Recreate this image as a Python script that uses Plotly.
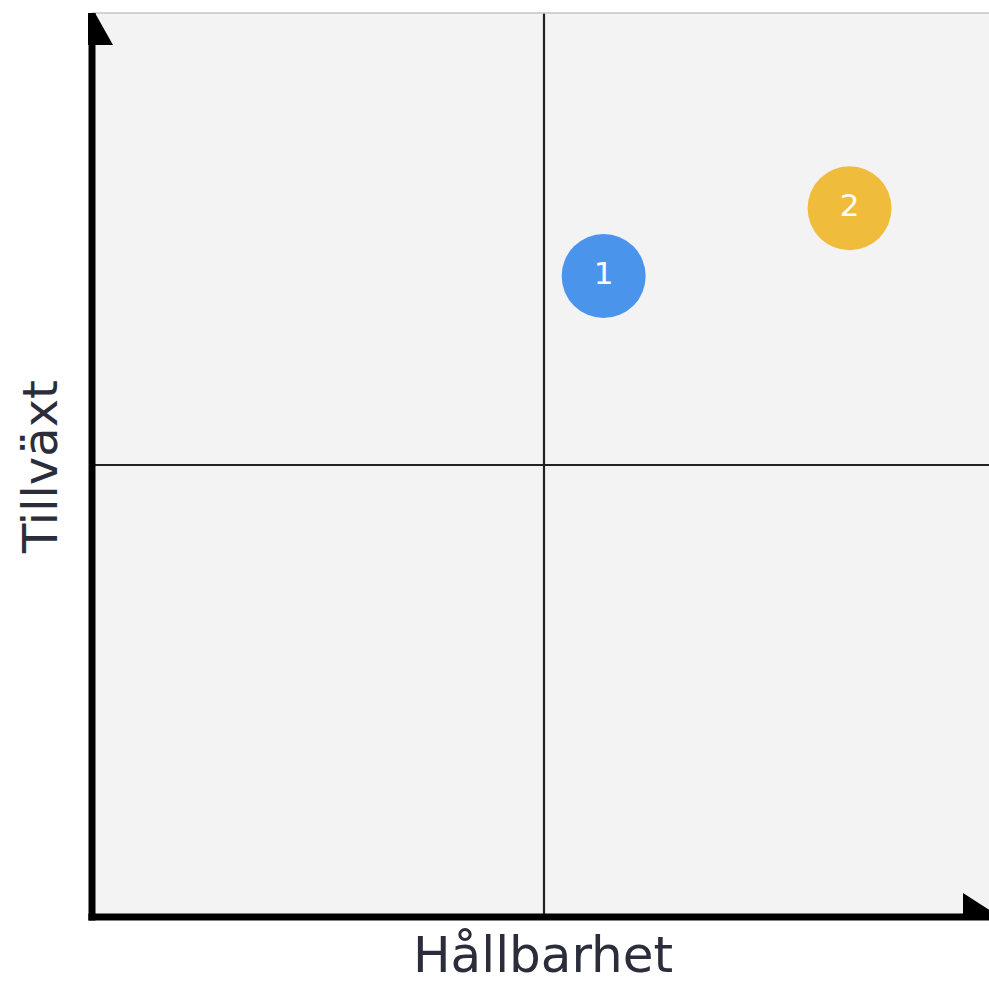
import plotly.graph_objects as go

# Data
labels = ["1", "2"]
hallbarhet = [5.66, 8.38]   # x values
tillvaxt = [7.09, 7.84]     # y values
colors = ["#4a94ec", "#f0bc3c"]
x_title = "Hållbarhet"
y_title = "Tillväxt"
mid = 5

W, H = 989, 986
L, R, T, B = 92, 0, 13, 69
plot_w = W - L - R
plot_h = H - T - B
x_max = 10 * plot_w / plot_h

FONT = "DejaVu Sans, sans-serif"
text_color = "#2b2e3a"

def px(xp):
    return (xp - L) / plot_w

def py(yp):
    return (T + plot_h - yp) / plot_h

fig = go.Figure()
fig.add_trace(go.Scatter(
    x=hallbarhet, y=tillvaxt, mode="markers+text", text=labels,
    textposition="middle center",
    textfont=dict(family=FONT, size=31, color="white"),
    marker=dict(size=84, color=colors, line=dict(width=0)),
    hoverinfo="skip", showlegend=False,
))

fig.update_layout(
    width=W, height=H,
    margin=dict(l=L, r=R, t=T, b=B, pad=0),
    paper_bgcolor="white", plot_bgcolor="#f3f3f3",
    xaxis=dict(range=[0, x_max], showgrid=False, zeroline=False, showticklabels=False,
               ticks="", showline=False, fixedrange=True),
    yaxis=dict(range=[0, 10], showgrid=False, zeroline=False, showticklabels=False,
               ticks="", showline=False, fixedrange=True),
)

# Axis titles
fig.add_annotation(text=x_title, xref="paper", yref="paper", x=px(543), y=py(985),
                   xanchor="center", yanchor="bottom", showarrow=False, borderpad=0,
                   font=dict(family=FONT, size=50, color=text_color))
fig.add_annotation(text=y_title, xref="paper", yref="paper", x=px(40), y=py(467),
                   xanchor="center", yanchor="middle", showarrow=False, textangle=-90,
                   font=dict(family=FONT, size=48, color=text_color))

# Quadrant lines
fig.add_shape(type="line", xref="x", yref="paper", x0=mid, x1=mid, y0=0, y1=1,
              line=dict(color="#222222", width=2.2), layer="below")
fig.add_shape(type="line", xref="paper", yref="y", x0=0, x1=1, y0=mid, y1=mid,
              line=dict(color="#222222", width=2.2), layer="below")
# Top thin border
fig.add_shape(type="line", xref="paper", yref="paper", x0=0, x1=1, y0=1, y1=1,
              line=dict(color="#c4c4c4", width=1.5))
# Thick axes
fig.add_shape(type="line", xref="paper", yref="paper", x0=0, x1=0, y0=-0.004, y1=1,
              line=dict(color="black", width=7))
fig.add_shape(type="line", xref="paper", yref="paper", x0=-0.004, x1=1, y0=0, y1=0,
              line=dict(color="black", width=7))

# Arrow heads
fig.add_shape(type="path", xref="paper", yref="paper",
              path=f"M {px(88)},{py(13)} L {px(95)},{py(13)} L {px(113)},{py(45)} L {px(88)},{py(45)} Z",
              fillcolor="black", line=dict(width=0))
fig.add_shape(type="path", xref="paper", yref="paper",
              path=f"M {px(963)},{py(893)} L {px(1005)},{py(920)} L {px(963)},{py(920)} Z",
              fillcolor="black", line=dict(width=0))

fig.write_html("out.html", config={"displayModeBar": False},
               post_script="document.body.style.margin='0px';document.body.style.overflow='hidden';")
